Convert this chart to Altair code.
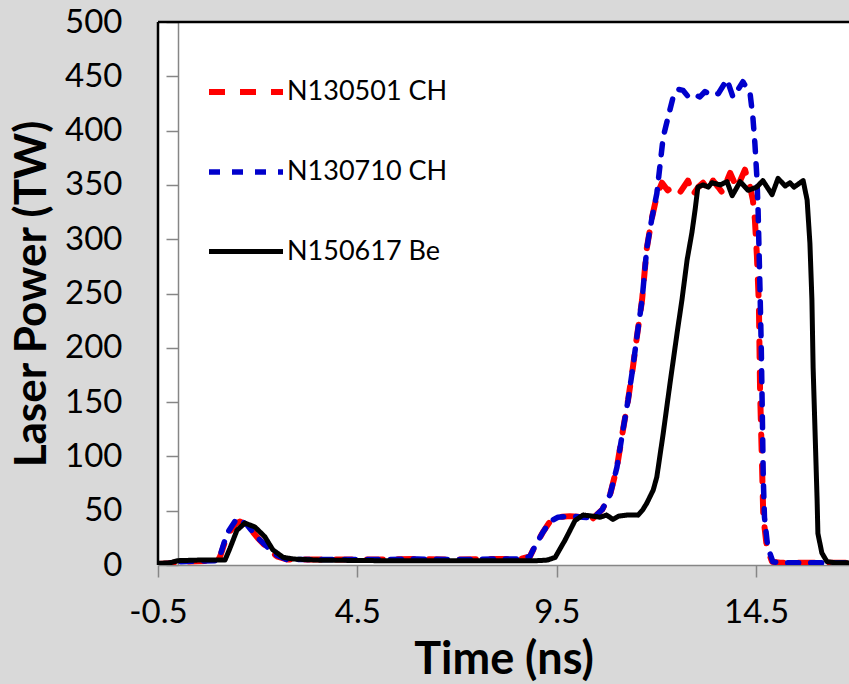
import altair as alt
import pandas as pd

series_names = ["N130501 CH", "N130710 CH", "N150617 Be"]
series_colors = ["#ff0000", "#0000cc", "#000000"]

red_t = [-0.5, -0.2, 0.0, 0.5, 1.0, 1.06, 1.23, 1.45, 1.55, 1.73, 2.0, 2.23, 2.48, 2.75, 3.2,
         4.0, 5.0, 6.0, 7.0, 8.0, 8.6, 8.83, 8.95, 9.15, 9.33, 9.53, 9.83, 10.16, 10.41, 10.64,
         10.84, 11.01, 11.16, 11.29, 11.41, 11.51, 11.64, 11.76, 11.89, 12.01, 12.14, 12.28,
         12.42, 12.59, 12.79, 12.92, 13.05, 13.17, 13.3, 13.42, 13.55, 13.65, 13.85, 14.02,
         14.22, 14.35, 14.42, 14.47, 14.52, 14.57, 14.6, 14.65, 14.68, 14.77, 14.9, 15.1, 16.8]
red_p = [1, 1.5, 3, 3.5, 4, 8, 27, 38, 40, 37, 25, 16, 8, 5, 5,
         5, 5, 5.5, 5, 5.5, 5.5, 8, 17, 30, 40, 44, 45, 44, 43, 51,
         65, 90, 124, 152, 182, 210, 244, 292, 320, 340, 352, 345,
         348, 343, 354, 341, 348, 352, 345, 354, 348, 343, 361, 347,
         364, 348, 336, 318, 285, 240, 160, 90, 45, 16, 3, 2, 2]

blue_t = [-0.5, -0.2, 0.0, 0.5, 1.0, 1.06, 1.23, 1.48, 1.73, 2.0, 2.23, 2.48, 2.73, 3.2,
          4.0, 5.0, 6.0, 7.0, 8.0, 8.6, 8.83, 8.95, 9.15, 9.33, 9.53, 9.83, 10.16, 10.41, 10.64,
          10.84, 11.01, 11.16, 11.29, 11.41, 11.51, 11.64, 11.76, 11.89, 12.01, 12.17, 12.29,
          12.42, 12.55, 12.67, 12.78, 12.89, 13.09, 13.22, 13.35, 13.55, 13.77, 13.92, 14.05,
          14.17, 14.35, 14.42, 14.47, 14.52, 14.55, 14.57, 14.6, 14.63, 14.66, 14.68, 14.71,
          14.79, 14.92, 15.1, 16.8]
blue_p = [1, 1.5, 3, 3.5, 4, 9, 29, 43, 37, 25, 17, 9, 5, 5,
          5, 5, 5.5, 5, 5.5, 5.5, 8, 17, 30, 40, 44, 45, 44, 43, 51,
          65, 90, 124, 152, 182, 210, 244, 292, 320, 342, 394, 412,
          431, 438, 437, 432, 434, 431, 436, 433, 434, 447, 431, 438,
          445, 434, 412, 388, 357, 327, 296, 250, 200, 130, 80, 44,
          17, 3, 2, 2]

black_t = [-0.5, -0.2, 0.0, 0.5, 1.0, 1.18, 1.3, 1.48, 1.68, 1.93, 2.18, 2.38, 2.64, 2.9, 3.5,
           5.0, 7.0, 9.0, 9.26, 9.46, 9.71, 9.96, 10.16, 10.4, 10.59, 10.75, 10.91, 11.05,
           11.26, 11.54, 11.66, 11.76, 11.92, 12.01, 12.17, 12.34, 12.52, 12.64, 12.77, 12.89,
           12.97, 13.04, 13.17, 13.3, 13.39, 13.6, 13.77, 13.9, 14.1, 14.3, 14.52, 14.67, 14.9,
           15.05, 15.23, 15.35, 15.45, 15.53, 15.68, 15.78, 15.85, 15.9, 15.93, 15.98, 16.03,
           16.05, 16.15, 16.28, 16.5, 16.8]
black_p = [1.5, 2, 4, 4.5, 4.5, 4.5, 15, 32, 38.6, 35, 26, 14, 7, 5.5, 4.5,
           4, 4, 4, 4.5, 7, 23, 41, 46, 45, 44, 46, 42, 45,
           46, 46, 51, 57, 69, 81, 121, 167, 214, 244, 281, 306,
           327, 348, 350, 348, 352, 350, 353, 340, 353, 345, 348, 354, 341,
           356, 349, 352, 348, 350, 354, 336, 296, 244, 182, 121, 60,
           29, 11, 3, 2, 2]

x_ticks = [-0.5, 4.5, 9.5, 14.5]
y_ticks = [0, 50, 100, 150, 200, 250, 300, 350, 400, 450, 500]

frames = []
for name, ts, ps in zip(series_names, [red_t, blue_t, black_t], [red_p, blue_p, black_p]):
    frames.append(pd.DataFrame({"t": ts, "p": ps, "series": name}))
df = pd.concat(frames, ignore_index=True)

W, H = 691, 543
FONT = "Lato"
GRAY = "#868686"

lines = alt.Chart(df).mark_line(strokeCap="round", strokeJoin="round", clip=True).encode(
    x=alt.X("t:Q",
            scale=alt.Scale(domain=[-0.5, 16.83], nice=False, zero=False),
            axis=alt.Axis(values=x_ticks, title="Time (ns)", grid=False,
                          labelExpr="toString(datum.value)", labelFlush=False,
                          labelOverlap=False, domainColor=GRAY, domainWidth=1.5,
                          tickColor=GRAY, tickWidth=1.5, tickSize=12,
                          labelFont=FONT, labelFontSize=33, labelColor="black",
                          labelPadding=19, titleFont=FONT, titleFontSize=45,
                          titleFontWeight="bold", titleColor="black",
                          titleBaseline="alphabetic", titleY=108, titleX=W / 2)),
    y=alt.Y("p:Q",
            scale=alt.Scale(domain=[0, 500], nice=False),
            axis=alt.Axis(values=y_ticks, title="Laser Power (TW)", grid=False, offset=-20,
                          labelExpr="toString(datum.value)", labelOverlap=False,
                          domainColor=GRAY, domainWidth=1.5, tickColor=GRAY,
                          tickWidth=1.5, tickSize=12, labelFont=FONT, labelFontSize=33,
                          labelColor="black", labelPadding=44, titleFont=FONT,
                          titleFontSize=44, titleFontWeight="bold", titleColor="black",
                          titleAngle=270, titleAlign="center", titleBaseline="alphabetic",
                          titleX=-133, titleY=H / 2)),
    color=alt.Color("series:N", scale=alt.Scale(domain=series_names, range=series_colors),
                    legend=alt.Legend(title=None)),
    strokeDash=alt.StrokeDash("series:N",
                              scale=alt.Scale(domain=series_names,
                                              range=[[16, 15], [11, 12], [1, 0]]),
                              legend=alt.Legend(title=None)),
    strokeWidth=alt.StrokeWidth("series:N",
                                scale=alt.Scale(domain=series_names, range=[6, 5, 5.5]),
                                legend=alt.Legend(title=None)),
)

frame_df = pd.DataFrame({"k": [0]})
left_border = alt.Chart(frame_df).mark_rule(color="black", strokeWidth=2.5).encode(
    x=alt.value(0), y=alt.value(0), y2=alt.value(H))
top_border = alt.Chart(frame_df).mark_rule(color="black", strokeWidth=2.5).encode(
    x=alt.value(0), x2=alt.value(W), y=alt.value(0))

chart = alt.layer(lines, left_border, top_border).properties(
    width=W, height=H,
    autosize=alt.AutoSizeParams(type="none"),
    padding={"left": 158, "top": 22, "right": 0, "bottom": 119},
    background="#d9d9d9",
).configure_view(stroke=None, fill="white").configure_legend(
    orient="none", legendX=48, legendY=30, symbolType="stroke", symbolSize=5476,
    labelFont=FONT, labelFontSize=27, labelColor="black", labelOffset=1,
    rowPadding=27, padding=0, labelLimit=400,
)

chart.save("out.html", embed_options={"renderer": "svg", "actions": False})
